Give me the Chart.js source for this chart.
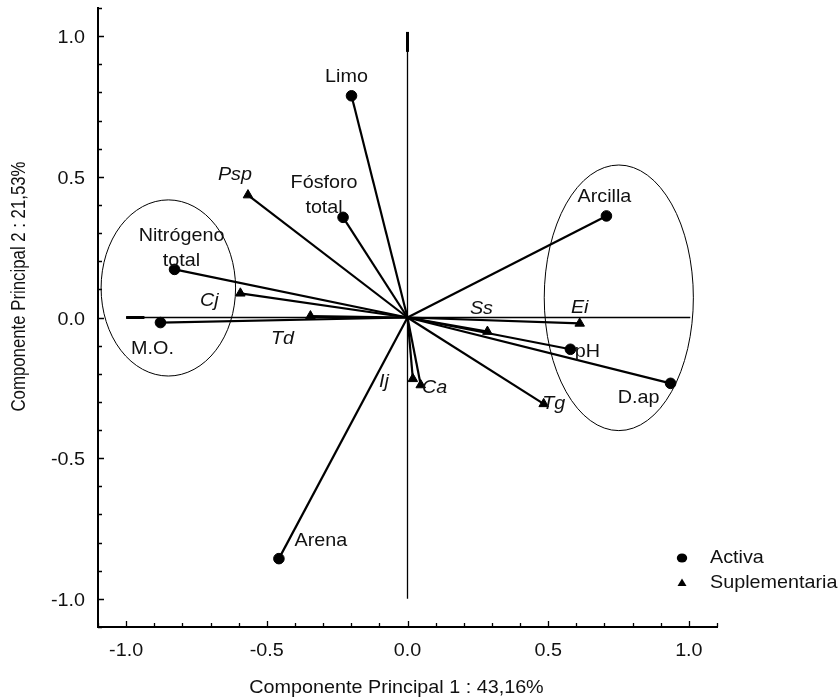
<!DOCTYPE html>
<html>
<head>
<meta charset="utf-8">
<title>Biplot ACP</title>
<script src="https://cdn.jsdelivr.net/npm/chart.js@4.4.1/dist/chart.umd.min.js"></script>
<style>
  body { margin: 0; background: #fff; }
  #wrap { width: 839px; height: 700px; }
</style>
</head>
<body>
<div id="wrap"><canvas id="biplot" width="839" height="700"></canvas></div>
<script>
// variables activas (circulos)
const activeNames = [['Limo'], ['Fósforo', 'total'], ['Nitrógeno', 'total'], ['M.O.'], ['Arcilla'], ['pH'], ['D.ap'], ['Arena']];
const activeX = [-0.199, -0.229, -0.828, -0.878, 0.707, 0.579, 0.935, -0.457];
const activeY = [0.788, 0.356, 0.171, -0.018, 0.361, -0.113, -0.234, -0.857];

// variables suplementarias (triangulos)
const suppNames = ['Psp', 'Cj', 'Td', 'Ss', 'Ei', 'Tg', 'Ca', 'Ij'];
const suppX = [-0.567, -0.594, -0.345, 0.284, 0.612, 0.484, 0.047, 0.019];
const suppY = [0.435, 0.086, 0.005, -0.050, -0.021, -0.307, -0.240, -0.218];

// ejes
const tickLabels = [-1.0, -0.5, 0.0, 0.5, 1.0];
const axisMin = -1.1, axisMax = 1.1;
const xTitle = 'Componente Principal 1 : 43,16%';
const yTitle = 'Componente Principal 2 : 21,53%';

// agrupaciones (elipses) en unidades de los ejes
const groups = [
  { cx: -0.850, cy: 0.105, rx: 0.239, ry: 0.313 },
  { cx: 0.751, cy: 0.070, rx: 0.265, ry: 0.472 }
];

// desplazamiento de las etiquetas en pixeles
const activeOffsets = [[-5, -19], [-19, -22], [7, -21], [-8, 26], [-2, -19], [17, 2], [-32, 14], [42, -18]];
const suppOffsets = [[-13, -20], [-31, 7], [-28, 23], [-6, -23], [0, -16], [10, 0], [14, 3], [-29, 3]];

const FONT = '"Liberation Sans", Arial, sans-serif';
const SIZE = 19;
const STRETCH = 1.04;

const minorTicks = [];
for (let i = -11; i <= 11; i++) minorTicks.push(i / 10);

function wideText(ctx, text, px, py, align, font) {
  ctx.save();
  ctx.translate(px, py);
  ctx.scale(STRETCH, 1);
  ctx.font = font;
  ctx.textAlign = align;
  ctx.textBaseline = 'middle';
  ctx.fillText(text, 0, 0);
  ctx.restore();
}

function vector(x, y) {
  return {
    data: [{ x: 0, y: 0 }, { x: x, y: y }],
    showLine: true,
    borderColor: '#000',
    borderWidth: 2.2,
    pointRadius: 0,
    order: 2
  };
}

function refLine(pts, w) {
  return { data: pts, showLine: true, borderColor: '#000', borderWidth: w, pointRadius: 0, order: 3 };
}

const datasets = [
  {
    label: 'Activa',
    data: activeX.map((v, i) => ({ x: v, y: activeY[i] })),
    pointStyle: 'circle',
    pointRadius: 5.3,
    backgroundColor: '#000',
    borderColor: '#000',
    order: 0
  },
  {
    label: 'Suplementaria',
    data: suppX.map((v, i) => ({ x: v, y: suppY[i] })),
    pointStyle: 'triangle',
    pointRadius: 5.5,
    backgroundColor: '#000',
    borderColor: '#000',
    order: 0
  },
  refLine([{ x: -1.0, y: 0 }, { x: 1.005, y: 0 }], 1.3),
  refLine([{ x: 0, y: -1.0 }, { x: 0, y: 1.015 }], 1.3),
  refLine([{ x: 0, y: 0.944 }, { x: 0, y: 1.015 }], 3),
  refLine([{ x: -1.0, y: 0 }, { x: -0.935, y: 0 }], 3)
];
activeX.forEach((v, i) => datasets.push(vector(v, activeY[i])));
suppX.forEach((v, i) => datasets.push(vector(v, suppY[i])));

const decor = {
  id: 'decor',
  afterDatasetsDraw(chart) {
    const { ctx, chartArea: a, scales: { x, y } } = chart;
    const font = SIZE + 'px ' + FONT;
    ctx.save();
    ctx.strokeStyle = '#000';
    ctx.fillStyle = '#111';

    // elipses
    ctx.lineWidth = 1;
    groups.forEach(g => {
      const cx = x.getPixelForValue(g.cx), cy = y.getPixelForValue(g.cy);
      const rx = x.getPixelForValue(g.cx + g.rx) - cx;
      const ry = cy - y.getPixelForValue(g.cy + g.ry);
      ctx.beginPath();
      ctx.ellipse(cx, cy, rx, ry, 0, 0, Math.PI * 2);
      ctx.stroke();
    });

    // etiquetas
    activeNames.forEach((lines, i) => {
      const px = x.getPixelForValue(activeX[i]) + activeOffsets[i][0];
      const py = y.getPixelForValue(activeY[i]) + activeOffsets[i][1];
      const lh = 25;
      lines.forEach((t, k) => {
        wideText(ctx, t, px, py + (k - (lines.length - 1) / 2) * lh, 'center', font);
      });
    });
    suppNames.forEach((t, i) => {
      const px = x.getPixelForValue(suppX[i]) + suppOffsets[i][0];
      const py = y.getPixelForValue(suppY[i]) + suppOffsets[i][1];
      wideText(ctx, t, px, py, 'center', 'italic ' + font);
    });

    // leyenda
    const lx = a.right - 35;
    ctx.fillStyle = '#000';
    ctx.beginPath();
    ctx.ellipse(lx, a.bottom - 69, 5.2, 4.6, 0, 0, Math.PI * 2);
    ctx.fill();
    ctx.beginPath();
    ctx.moveTo(lx, a.bottom - 48.5);
    ctx.lineTo(lx + 4.5, a.bottom - 41);
    ctx.lineTo(lx - 4.5, a.bottom - 41);
    ctx.closePath();
    ctx.fill();
    ctx.fillStyle = '#111';
    wideText(ctx, 'Activa', a.right - 7, a.bottom - 69, 'left', font);
    wideText(ctx, 'Suplementaria', a.right - 7, a.bottom - 44, 'left', font);

    // marcas de los ejes (hacia dentro)
    ctx.strokeStyle = '#000';
    ctx.lineWidth = 1.3;
    ctx.beginPath();
    x.ticks.forEach(t => {
      const major = Math.abs(t.value * 2 - Math.round(t.value * 2)) < 1e-6;
      const px = Math.round(x.getPixelForValue(t.value)) + 0.5;
      ctx.moveTo(px, a.bottom);
      ctx.lineTo(px, a.bottom - (major ? 6 : 4));
    });
    y.ticks.forEach(t => {
      const major = Math.abs(t.value * 2 - Math.round(t.value * 2)) < 1e-6;
      const py = Math.round(y.getPixelForValue(t.value)) + 0.5;
      ctx.moveTo(a.left, py);
      ctx.lineTo(a.left + (major ? 6 : 4), py);
    });
    ctx.stroke();

    // etiquetas de los ejes
    ctx.fillStyle = '#111';
    tickLabels.forEach(v => {
      wideText(ctx, v.toFixed(1), x.getPixelForValue(v), a.bottom + 24, 'center', font);
      wideText(ctx, v.toFixed(1), a.left - 13, y.getPixelForValue(v) + 2, 'right', font);
    });

    // titulos
    wideText(ctx, xTitle, (a.left + a.right) / 2 - 11, a.bottom + 61, 'center', font);
    ctx.save();
    ctx.translate(20, (a.top + a.bottom) / 2 - 31);
    ctx.scale(1.15, 1);
    ctx.rotate(-Math.PI / 2);
    ctx.font = '16.8px ' + FONT;
    ctx.textAlign = 'center';
    ctx.textBaseline = 'middle';
    ctx.fillText(yTitle, 0, 0);
    ctx.restore();

    ctx.restore();
  }
};

function axis(size) {
  return {
    type: 'linear',
    min: axisMin,
    max: axisMax,
    ticks: { display: false },
    grid: { display: false, drawTicks: false },
    border: { display: true, color: '#000', width: 2 },
    afterBuildTicks: s => { s.ticks = minorTicks.map(v => ({ value: v })); },
    afterFit: size
  };
}

new Chart(document.getElementById('biplot'), {
  type: 'scatter',
  data: { datasets: datasets },
  options: {
    responsive: false,
    animation: false,
    devicePixelRatio: 1,
    layout: { padding: { top: 8, right: 122, left: 0, bottom: 0 } },
    plugins: { legend: { display: false }, tooltip: { enabled: false } },
    scales: {
      x: axis(s => { s.height = 73; }),
      y: axis(s => { s.width = 98; })
    }
  },
  plugins: [decor]
});
</script>
</body>
</html>
